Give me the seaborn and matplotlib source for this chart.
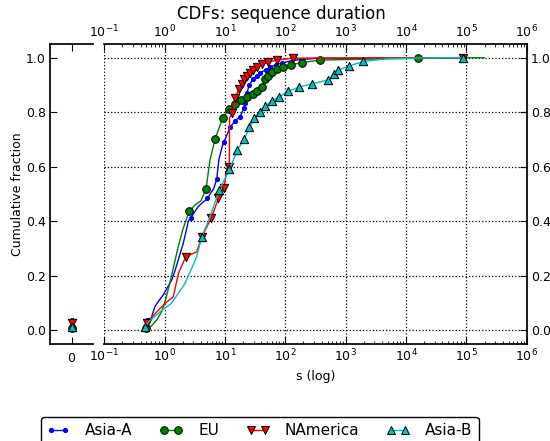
import matplotlib
matplotlib.use("Agg")
import matplotlib.pyplot as plt
from matplotlib.lines import Line2D
import seaborn as sns
import numpy as np

# ---------------- data ----------------
series_names = ["Asia-A", "EU", "NAmerica", "Asia-B"]

# fraction of sequences with zero duration (left panel)
zero_frac = [0.038, 0.008, 0.026, 0.012]

# Asia-A CDF line and markers
asia_a_x = [0.47, 0.516, 0.6, 0.69, 0.78, 0.95, 1.31, 1.49, 2.04, 2.47, 2.71, 3.6, 5.1, 6.5, 7.3, 7.9, 9.0,
            9.66, 12.2, 14.7, 17.8, 20.7, 21.2, 23, 25.4, 28.9, 33.7, 38.2, 47.5, 56, 70.4, 87.5, 130, 300, 87000]
asia_a_y = [0.015, 0.038, 0.045, 0.087, 0.105, 0.13, 0.185, 0.22, 0.32, 0.40, 0.413, 0.454, 0.484, 0.52, 0.554,
            0.625, 0.675, 0.692, 0.745, 0.768, 0.784, 0.815, 0.833, 0.87, 0.90, 0.921, 0.933, 0.945, 0.955, 0.965,
            0.974, 0.98, 0.99, 0.997, 1.0]
asia_a_mx = [0.516, 2.71, 5.1, 7.3, 9.66, 12.2, 14.7, 17.8, 20.7, 21.2, 23, 25.4, 28.9, 33.7, 38.2, 47.5, 56,
             70.4, 87.5]
asia_a_my = [0.038, 0.413, 0.484, 0.554, 0.692, 0.745, 0.768, 0.784, 0.815, 0.833, 0.87, 0.90, 0.921, 0.933,
             0.945, 0.955, 0.965, 0.974, 0.98]

# EU CDF line and markers
eu_x = [0.47, 0.6, 0.75, 0.9, 1.06, 1.3, 1.65, 2.0, 2.57, 3.2, 4.0, 4.85, 5.6, 6.85, 9.2, 11.7, 14.7, 18.3,
        22.9, 28.9, 34.4, 41.2, 46.2, 52.5, 60.4, 74, 93, 123, 190, 378, 15600, 200000]
eu_y = [0.01, 0.015, 0.04, 0.07, 0.12, 0.20, 0.30, 0.37, 0.438, 0.46, 0.475, 0.518, 0.62, 0.702, 0.779, 0.811,
        0.829, 0.844, 0.856, 0.866, 0.878, 0.893, 0.921, 0.933, 0.947, 0.959, 0.965, 0.974, 0.982, 0.991, 0.998,
        1.0]
eu_mx = [0.5, 2.57, 4.85, 6.85, 9.2, 11.7, 14.7, 18.3, 22.9, 28.9, 34.4, 41.2, 46.2, 52.5, 60.4, 74, 93, 123,
         190, 378, 15600]
eu_my = [0.008, 0.438, 0.518, 0.702, 0.779, 0.811, 0.829, 0.844, 0.856, 0.866, 0.878, 0.893, 0.921, 0.933,
         0.947, 0.959, 0.965, 0.974, 0.982, 0.991, 0.998]

# NAmerica CDF line and markers
nam_x = [0.47, 0.505, 0.74, 1.02, 1.39, 1.69, 2.24, 3.4, 4.1, 5.95, 7.8, 9.66, 10.7, 11.5, 11.8, 11.9, 13.3,
         14.7, 16.9, 19, 21, 23.5, 26, 29.5, 33.7, 40.7, 52, 74, 133, 1000, 87000]
nam_y = [0.012, 0.026, 0.068, 0.099, 0.123, 0.209, 0.27, 0.288, 0.341, 0.413, 0.484, 0.521, 0.594, 0.598, 0.60,
         0.78, 0.796, 0.851, 0.884, 0.903, 0.921, 0.933, 0.945, 0.955, 0.967, 0.976, 0.984, 0.991, 0.998, 0.999,
         1.0]
nam_mx = [0.505, 2.24, 4.1, 5.95, 7.8, 9.66, 11.5, 13.3, 14.7, 16.9, 19, 21, 23.5, 26, 29.5, 33.7, 40.7, 52,
          74, 133, 87000]
nam_my = [0.026, 0.27, 0.341, 0.413, 0.484, 0.521, 0.598, 0.796, 0.851, 0.884, 0.903, 0.921, 0.933, 0.945,
          0.955, 0.967, 0.976, 0.984, 0.991, 0.998, 1.0]

# Asia-B CDF line and markers
asb_x = [0.46, 0.84, 1.29, 2.18, 3.4, 4.12, 5.4, 8.07, 11.8, 16.1, 20.9, 25.4, 30.7, 38, 46.3, 60, 79, 110,
         169, 276, 507, 629, 760, 1156, 1974, 5000, 20000, 87000]
asb_y = [0.017, 0.068, 0.099, 0.172, 0.27, 0.343, 0.405, 0.515, 0.588, 0.662, 0.701, 0.745, 0.778, 0.802,
         0.823, 0.841, 0.857, 0.876, 0.892, 0.904, 0.918, 0.939, 0.955, 0.97, 0.986, 0.996, 0.999, 1.0]
asb_mx = [0.47, 4.12, 8.07, 11.8, 16.1, 20.9, 25.4, 30.7, 38, 46.3, 60, 79, 110, 169, 276, 507, 629, 760,
          1156, 1974, 87000]
asb_my = [0.012, 0.343, 0.515, 0.59, 0.662, 0.701, 0.745, 0.778, 0.802, 0.823, 0.841, 0.857, 0.876, 0.892,
          0.904, 0.918, 0.939, 0.955, 0.97, 0.986, 1.0]

y_ticks = [0.0, 0.2, 0.4, 0.6, 0.8, 1.0]

# ---------------- style ----------------
sns.set_theme(style="ticks", rc={
    "axes.edgecolor": "black", "xtick.color": "black", "ytick.color": "black",
    "text.color": "black", "axes.labelcolor": "black",
    "xtick.direction": "in", "ytick.direction": "in",
})
plt.rcParams["font.family"] = ["DejaVu Sans"]

colors = ["#0000ff", "#008000", "#ff0000", "#00bfbf"]
markers = ["o", "o", "v", "^"]
msizes = [3.0, 5.5, 6.0, 6.0]
medges = ["#0000ff", "black", "black", "black"]

lines = [(asia_a_x, asia_a_y, asia_a_mx, asia_a_my),
         (eu_x, eu_y, eu_mx, eu_my),
         (nam_x, nam_y, nam_mx, nam_my),
         (asb_x, asb_y, asb_mx, asb_my)]

fig = plt.figure(figsize=(5.5, 4.41), dpi=100)
ax0 = fig.add_axes([50 / 550, 97 / 441, 43 / 550, 300 / 441])
ax = fig.add_axes([104.3 / 550, 97 / 441, 422.4 / 550, 300 / 441])

for i, (lx, ly, mx, my) in enumerate(lines):
    sns.lineplot(x=lx, y=ly, ax=ax, color=colors[i], lw=1.0, sort=False, estimator=None,
                 zorder=2 + 2 * i)
    sns.scatterplot(x=mx, y=my, ax=ax, color=colors[i], marker=markers[i], s=msizes[i] ** 2,
                    edgecolor=medges[i], linewidth=0.7, zorder=3 + 2 * i)
    sns.scatterplot(x=[0], y=[zero_frac[i]], ax=ax0, color=colors[i], marker=markers[i],
                    s=msizes[i] ** 2, edgecolor=medges[i], linewidth=0.7, zorder=3 + 2 * i)

# main axis
ax.set_xscale("log")
ax.set_xlim(1e-1, 1e6)
ax.set_ylim(-0.05, 1.05)
ax.set_yticks(y_ticks)
ax.set_yticklabels([f"{v:.1f}" for v in y_ticks])
ax.grid(True, which="major", linestyle=":", color="black", linewidth=0.9)
ax.spines["left"].set_visible(False)
ax.tick_params(axis="y", left=False, labelleft=False, right=True, labelright=True, labelsize=9,
               length=5, width=0.8, pad=3)
ax.tick_params(axis="x", which="both", top=True, labeltop=True, bottom=True, labelbottom=True,
               labelsize=9, pad=2.5)
ax.tick_params(axis="x", which="major", length=5, width=0.8)
ax.tick_params(axis="x", which="minor", length=2.5, width=0.6)
ax.set_xlabel("s (log)", fontsize=9, labelpad=4)
ax.set_ylabel("")

# left axis (zero values)
ax0.set_xlim(-1, 1)
ax0.set_ylim(-0.05, 1.05)
ax0.set_xticks([0])
ax0.set_xticklabels(["0"])
ax0.set_yticks(y_ticks)
ax0.set_yticklabels([f"{v:.1f}" for v in y_ticks])
ax0.spines["right"].set_visible(False)
ax0.tick_params(axis="x", top=True, labeltop=False, labelsize=9, length=5, width=0.8, pad=6)
ax0.tick_params(axis="y", labelsize=9, length=5, width=0.8, pad=3)
ax0.set_ylabel("Cumulative fraction", fontsize=9, labelpad=1.5)
ax0.set_xlabel("")

fig.text(281 / 550, 1 - 14 / 441, "CDFs: sequence duration", ha="center", va="center", fontsize=12)

handles = [Line2D([0], [0], color=colors[i], lw=1.0, marker=markers[i], markersize=msizes[i],
                  markeredgecolor=medges[i], markeredgewidth=0.7) for i in range(4)]
fig.legend(handles, series_names, loc="upper center", bbox_to_anchor=(259.5 / 550, 1 - 417 / 441),
           ncol=4, fontsize=11, numpoints=2, handlelength=1.5, handletextpad=1.0,
           columnspacing=1.8, frameon=True, edgecolor="black", fancybox=True, framealpha=1,
           borderpad=0.4, borderaxespad=0)

fig.savefig("out.png", dpi=100)
